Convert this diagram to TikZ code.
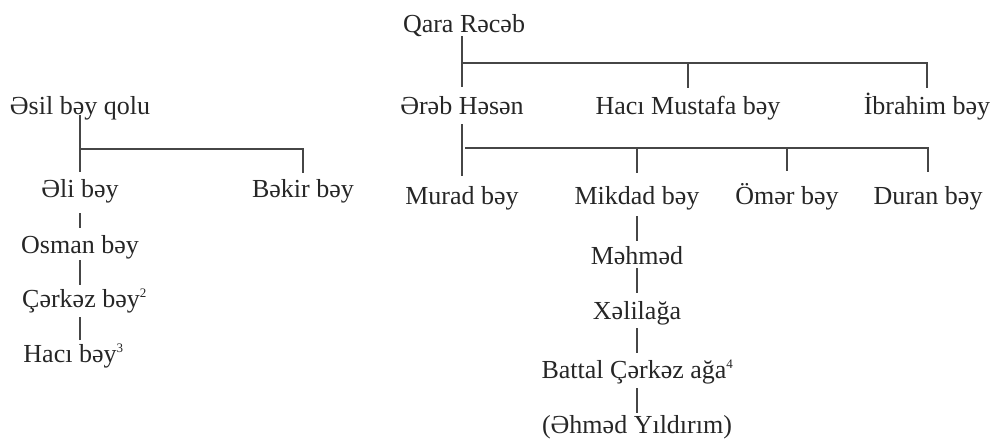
\documentclass[tikz,border=0pt]{standalone}
\usepackage{fontspec}
\setmainfont{Liberation Serif}
\usetikzlibrary{calc}
\definecolor{ink}{RGB}{38,38,38}
\definecolor{rule}{RGB}{70,70,70}
\newcommand\mysup[1]{\rlap{\raisebox{9.5pt}{\fontsize{13}{13}\selectfont #1}}}
\tikzset{
  lbl/.style={anchor=base, inner sep=0pt, text=ink, font=\fontsize{26}{30}\selectfont},
  conn/.style={draw=rule, line width=1.1pt}
}
\begin{document}
\begin{tikzpicture}[x=1pt,y=-1pt]
\useasboundingbox (0,0) rectangle (995,445);
% left tree
\node[lbl] (esil)   at (80,114) {Əsil bəy qolu};
\node[lbl] (eli)    at (80,197) {Əli bəy};
\node[lbl] (bekir)  at (303,197) {Bəkir bəy};
\node[lbl] (osman)  at (80,253) {Osman bəy};
\node[lbl] (cerkez) at (81,307) {Çərkəz bəy\mysup{2}};
\node[lbl] (haci)   at (70,362) {Hacı bəy\mysup{3}};
% right tree
\node[lbl] (qara)   at (464,32) {Qara Rəcəb};
\node[lbl] (erab)   at (462,114) {Ərəb Həsən};
\node[lbl] (hmus)   at (688,114) {Hacı Mustafa bəy};
\node[lbl] (ibr)    at (927,114) {İbrahim bəy};
\node[lbl] (murad)  at (462,204) {Murad bəy};
\node[lbl] (mikdad) at (637,204) {Mikdad bəy};
\node[lbl] (omer)   at (787,204) {Ömər bəy};
\node[lbl] (duran)  at (928,204) {Duran bəy};
\node[lbl] (mehmed) at (637,264) {Məhməd};
\node[lbl] (xelil)  at (637,319) {Xəlilağa};
\node[lbl] (battal) at (634,378) {Battal Çərkəz ağa\mysup{4}};
\node[lbl] (ahmed)  at (637,433) {(Əhməd Yıldırım)};
% left connectors
\draw[conn] ($(esil.base)+(0,1)$) -- ($(eli.base)+(0,-25)$);
\draw[conn] ($(esil.base)+(0,35)$) -| ($(bekir.base)+(0,-24)$);
\draw[conn] ($(eli.base)+(0,16)$) -- ($(osman.base)+(0,-25)$);
\draw[conn] ($(osman.base)+(0,7)$) -- ($(osman.base |- cerkez.base)+(0,-22)$);
\draw[conn] ($(osman.base |- cerkez.base)+(0,10)$) -- ($(osman.base |- haci.base)+(0,-22)$);
% right connectors
\draw[conn] ($(erab.base |- qara.base)+(0,4)$) -- ($(erab.base)+(0,-27)$);
\draw[conn] ($(erab.base |- qara.base)+(0,31)$) -| ($(ibr.base)+(0,-26)$);
\draw[conn] ($(hmus.base)+(0,-51)$) -- ($(hmus.base)+(0,-26)$);
\draw[conn] ($(erab.base)+(0,10)$) -- ($(murad.base)+(0,-28)$);
\draw[conn] ($(erab.base)+(3,34)$) -| ($(duran.base)+(0,-32)$);
\draw[conn] ($(mikdad.base)+(0,-56)$) -- ($(mikdad.base)+(0,-31)$);
\draw[conn] ($(omer.base)+(0,-56)$) -- ($(omer.base)+(0,-33)$);
\draw[conn] ($(mikdad.base)+(0,12)$) -- ($(mehmed.base)+(0,-23)$);
\draw[conn] ($(mehmed.base)+(0,4)$) -- ($(xelil.base)+(0,-26)$);
\draw[conn] ($(xelil.base)+(0,9)$) -- ($(xelil.base |- battal.base)+(0,-25)$);
\draw[conn] ($(xelil.base |- battal.base)+(0,10)$) -- ($(ahmed.base)+(0,-20)$);
\end{tikzpicture}
\end{document}
